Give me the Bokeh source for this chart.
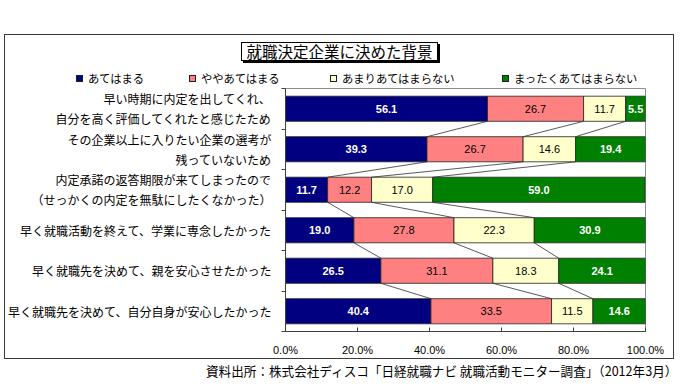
from bokeh.plotting import figure
from bokeh.models import Range1d, FixedTicker, ColumnDataSource, Spacer, Div
from bokeh.layouts import column, row
from bokeh.embed import file_html
from bokeh.resources import INLINE
from bokeh.core.properties import value

# ---------------- data ----------------
title_text = "就職決定企業に決めた背景"
source_text = "資料出所：株式会社ディスコ「日経就職ナビ 就職活動モニター調査」（2012年3月）"
categories = [
    "早い時期に内定を出してくれ、\n自分を高く評価してくれたと感じたため",
    "その企業以上に入りたい企業の選考が\n残っていないため",
    "内定承諾の返答期限が来てしまったので\n（せっかくの内定を無駄にしたくなかった）",
    "早く就職活動を終えて、学業に専念したかった",
    "早く就職先を決めて、親を安心させたかった",
    "早く就職先を決めて、自分自身が安心したかった",
]
series_names = ["あてはまる", "ややあてはまる", "あまりあてはまらない", "まったくあてはまらない"]
s_agree = [56.1, 39.3, 11.7, 19.0, 26.5, 40.4]
s_some = [26.7, 26.7, 12.2, 27.8, 31.1, 33.5]
s_little = [11.7, 14.6, 17.0, 22.3, 18.3, 11.5]
s_none = [5.5, 19.4, 59.0, 30.9, 24.1, 14.6]
x_ticks = [0, 20, 40, 60, 80, 100]
x_tick_labels = ["0.0%", "20.0%", "40.0%", "60.0%", "80.0%", "100.0%"]

colors = ["#000080", "#FF8080", "#FFFFCC", "#008000"]
label_colors = ["white", "black", "black", "white"]
label_styles = ["bold", "normal", "normal", "bold"]

series = [s_agree, s_some, s_little, s_none]
n = len(categories)
centers = [n - 0.5 - i for i in range(n)]
bar_h = 0.62

JP = "Noto Sans CJK JP"
NUM = "Liberation Sans"

W = 668
HEAD_H = 53
MAIN_H = 270

# ---------------- header: title box + legend ----------------
legend_left = [71, 184, 325, 497]   # layout positions of legend swatches (px)
parts = [
    '<div style="position:relative;width:%dpx;height:%dpx;font-family:\'%s\';color:black">'
    % (W, HEAD_H, JP),
    '<div style="position:absolute;left:236px;top:7px;padding:0 4.5px;border:1px solid black;'
    'box-shadow:2px 2px 0 black;background:white;font-size:15.5px;line-height:17px;'
    'white-space:nowrap">%s</div>' % title_text,
]
for nm, c, lx in zip(series_names, colors, legend_left):
    parts.append('<div style="position:absolute;left:%dpx;top:40px;width:7px;height:7px;'
                 'box-sizing:border-box;border:1px solid #202020;background:%s"></div>'
                 % (lx, c))
    parts.append('<div style="position:absolute;left:%dpx;top:36px;font-size:11.3px;'
                 'line-height:14px;white-space:nowrap">%s</div>' % (lx + 12, nm))
parts.append('</div>')
head = Div(text="".join(parts), width=W, height=HEAD_H, margin=0)

# ---------------- main chart ----------------
p = figure(width=W, height=MAIN_H, x_range=Range1d(0, 100), y_range=Range1d(0, n),
           output_backend="svg", toolbar_location=None, title=None,
           min_border_left=280, min_border_right=28,
           min_border_top=0, min_border_bottom=27)
p.background_fill_color = "white"
p.border_fill_color = "white"
p.outline_line_color = "#8c8c8c"
p.xgrid.visible = False
p.ygrid.visible = False

cum = [0.0] * n
bounds = []
for k, vals in enumerate(series):
    left = cum[:]
    right = [a + b for a, b in zip(cum, vals)]
    src = ColumnDataSource(dict(y=centers, left=left, right=right))
    p.hbar(y="y", left="left", right="right", height=bar_h, source=src,
           fill_color=colors[k], line_color="#202020", line_width=0.8)
    lsrc = ColumnDataSource(dict(
        x=[(a + b) / 2 for a, b in zip(left, right)], y=centers,
        text=["%.1f" % v for v in vals]))
    p.text(x="x", y="y", text="text", source=lsrc, text_font=value(NUM),
           text_font_size="11px", text_font_style=label_styles[k],
           text_color=label_colors[k], text_align="center", text_baseline="middle")
    cum = right
    if k < len(series) - 1:
        bounds.append(right)

# series lines
x0s, y0s, x1s, y1s = [], [], [], []
for b in bounds:
    for i in range(n - 1):
        x0s.append(b[i]); y0s.append(centers[i] - bar_h / 2)
        x1s.append(b[i + 1]); y1s.append(centers[i + 1] + bar_h / 2)
p.segment(x0=x0s, y0=y0s, x1=x1s, y1=y1s, line_color="#303030", line_width=0.8)

xa = p.xaxis[0]
xa.ticker = FixedTicker(ticks=x_ticks)
xa.major_label_overrides = {t: l for t, l in zip(x_ticks, x_tick_labels)}
xa.major_tick_in = 4
xa.major_tick_out = 0
xa.minor_tick_line_color = None
xa.major_label_standoff = 12
xa.major_label_text_font = NUM
xa.major_label_text_font_size = "11px"
xa.major_label_text_color = "black"
xa.axis_line_color = "#404040"
xa.major_tick_line_color = "#404040"

ya = p.yaxis[0]
ya.ticker = FixedTicker(ticks=centers, minor_ticks=list(range(n + 1)))
ya.major_label_overrides = {c: t for c, t in zip(centers, categories)}
ya.major_tick_in = 0
ya.major_tick_out = 0
ya.minor_tick_in = 0
ya.minor_tick_out = 4
ya.minor_tick_line_color = "#404040"
ya.major_label_standoff = 10
ya.major_label_text_font = JP
ya.major_label_text_font_size = "12px"
ya.major_label_text_color = "black"
ya.axis_line_color = "#404040"

boxed = column(head, p, styles={"outline": "1px solid #3a3a3a"})

note = Div(text=('<div style="font-family:\'Noto Sans CJK JP\';font-size:12.6px;line-height:17px;'
                 'padding-left:206px;padding-top:4px;white-space:nowrap;color:black">'
                 + source_text + '</div>'), width=682, height=28, margin=0)

layout = column(Spacer(width=682, height=35),
                row(Spacer(width=5, height=HEAD_H + MAIN_H), boxed),
                note)

open("out.html", "w").write(file_html(layout, INLINE))
